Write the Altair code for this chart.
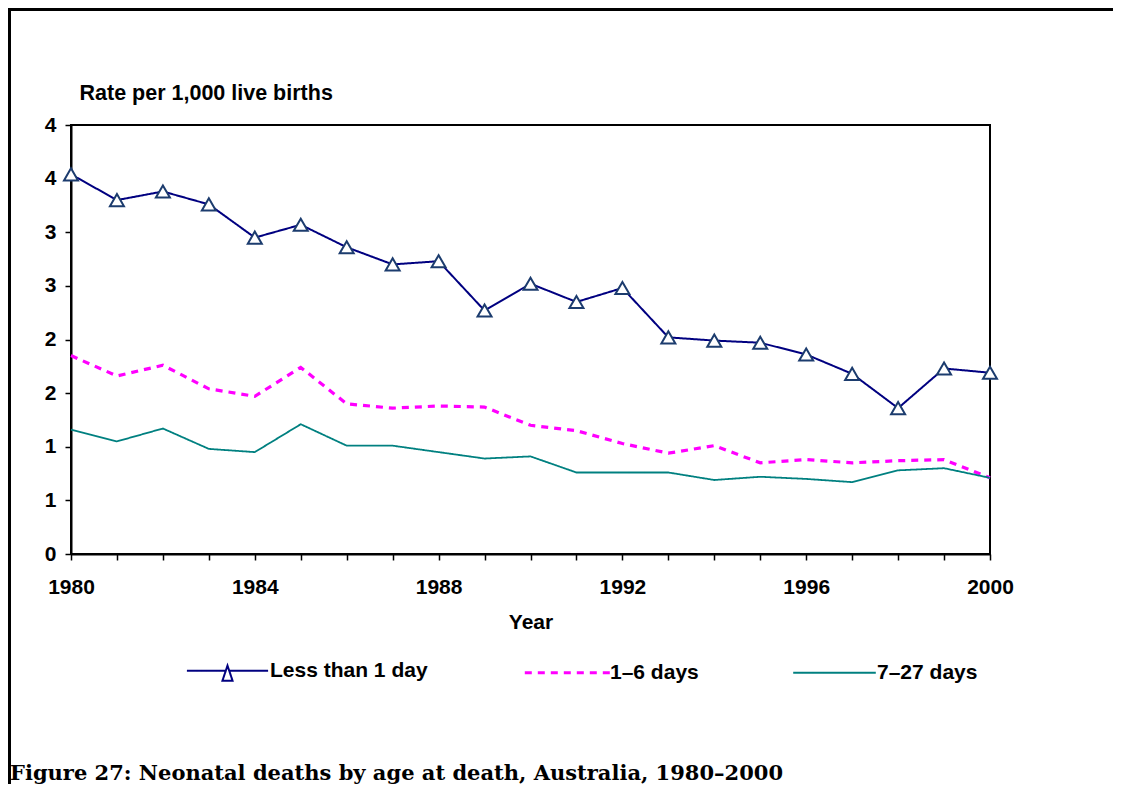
import altair as alt
import pandas as pd

years = list(range(1980, 2001))
less_than_1_day = [3.54, 3.30, 3.38, 3.26, 2.95, 3.07, 2.86, 2.70, 2.73, 2.27, 2.52,
                   2.35, 2.48, 2.02, 1.99, 1.97, 1.86, 1.68, 1.36, 1.73, 1.69]
days_1_6 = [1.85, 1.66, 1.76, 1.54, 1.47, 1.74, 1.40, 1.36, 1.38, 1.37, 1.20,
            1.15, 1.03, 0.94, 1.01, 0.85, 0.88, 0.85, 0.87, 0.88, 0.71]
days_7_27 = [1.16, 1.05, 1.17, 0.98, 0.95, 1.21, 1.01, 1.01, 0.95, 0.89, 0.91,
             0.76, 0.76, 0.76, 0.69, 0.72, 0.70, 0.67, 0.78, 0.80, 0.71]
series_names = ["Less than 1 day", "1\u20136 days", "7\u201327 days"]
series_colors = ["#000080", "#FF00FF", "#008080"]
y_ticks = [0, 0.5, 1, 1.5, 2, 2.5, 3, 3.5, 4]

rows = []
for name, vals in zip(series_names, [less_than_1_day, days_1_6, days_7_27]):
    for yr, v in zip(years, vals):
        rows.append({"year": yr, "rate": v, "series": name})
df = pd.DataFrame(rows)

W, H = 919, 429
PAD_L, PAD_T, PAD_R, PAD_B = 63, 117, 123, 230
FONT = "Liberation Sans"

x_enc = alt.X("year:Q", scale=alt.Scale(domain=[1980, 2000], nice=False, zero=False),
              axis=alt.Axis(values=years, labelExpr="datum.value % 4 == 0 ? format(datum.value, 'd') : ''",
                            title="Year", titleY=74, titleBaseline="alphabetic",
                            tickSize=6, labelPadding=16, labelFlush=False, labelOverlap=False))
y_enc = alt.Y("rate:Q", scale=alt.Scale(domain=[0, 4], nice=False),
              axis=alt.Axis(values=y_ticks, labelExpr="floor(datum.value + 0.5)",
                            title="Rate per 1,000 live births", titleAngle=0, titleAlign="left",
                            titleBaseline="alphabetic", titleX=8, titleY=-26, titleFontSize=21.5,
                            tickSize=6, labelPadding=9, labelFlush=False, labelOverlap=False))

color_scale = alt.Scale(domain=series_names, range=series_colors)
dash_scale = alt.Scale(domain=series_names, range=[[1, 0], [7, 6], [1, 0]])
width_scale = alt.Scale(type="ordinal", domain=series_names, range=[2, 3.2, 1.8])
shape_scale = alt.Scale(domain=series_names, range=[
    "M-5.8,0H-0.25M0.25,0H5.8M0,-0.75L0.72,1.4L-0.72,1.4Z",
    "M-6.1,0H6.1",
    "M-5.9,0H5.9",
])

base = alt.Chart(df)

leg = alt.Legend(title=None, orient="none", direction="horizontal", columns=3,
                 legendX=146, legendY=535,
                 columnPadding=90, symbolSize=196, symbolStrokeWidth=2, labelOffset=32,
                 labelFont=FONT, labelFontSize=21, labelFontWeight="bold", labelColor="black",
                 labelLimit=400)
legend_layer = base.mark_point(filled=False, strokeWidth=2, opacity=0).encode(
    x=x_enc, y=y_enc,
    color=alt.Color("series:N", scale=color_scale, legend=leg),
    shape=alt.Shape("series:N", scale=shape_scale, legend=leg),
    strokeDash=alt.StrokeDash("series:N", scale=dash_scale, legend=leg),
)

lines = base.mark_line().encode(
    x="year:Q", y="rate:Q",
    color=alt.Color("series:N", scale=color_scale, legend=None),
    strokeDash=alt.StrokeDash("series:N", scale=dash_scale, legend=None),
    strokeWidth=alt.StrokeWidth("series:N", scale=width_scale, legend=None),
)

points = base.transform_filter(alt.datum.series == series_names[0]).mark_point(
    shape="triangle-up", filled=True, fill="white", stroke="#1C3C6E",
    strokeWidth=2, size=196, opacity=1
).encode(x="year:Q", y="rate:Q")

frame_df = pd.DataFrame({"frame": [0]})
frame_top = alt.Chart(frame_df).mark_rule(color="black", strokeWidth=3).encode(
    x=alt.value(-PAD_L), x2=alt.value(W + PAD_R), y=alt.value(-PAD_T + 1.5))
frame_left = alt.Chart(frame_df).mark_rule(color="black", strokeWidth=3).encode(
    x=alt.value(-PAD_L + 1.5), y=alt.value(-PAD_T), y2=alt.value(H + PAD_B))

chart = alt.layer(legend_layer, frame_top, frame_left, lines, points).properties(
    width=W, height=H,
    padding={"left": PAD_L, "top": PAD_T, "right": PAD_R, "bottom": PAD_B},
    autosize=alt.AutoSizeParams(type="none"),
    title=alt.Title("Figure 27: Neonatal deaths by age at death, Australia, 1980\u20132000",
                    orient="bottom", anchor="start", frame="group", dx=-61, offset=-6,
                    baseline="alphabetic", font="DejaVu Serif", fontSize=21,
                    fontWeight="bold", color="black"),
).configure(font=FONT).configure_view(
    stroke="black", strokeWidth=2
).configure_axis(
    grid=False, domainColor="black", domainWidth=2, tickColor="black", tickWidth=1.5,
    labelFont=FONT, labelFontSize=21, labelFontWeight="bold", labelColor="black",
    titleFont=FONT, titleFontSize=21, titleFontWeight="bold", titleColor="black",
)

chart.save("out.html", embed_options={"renderer": "svg", "actions": False})
